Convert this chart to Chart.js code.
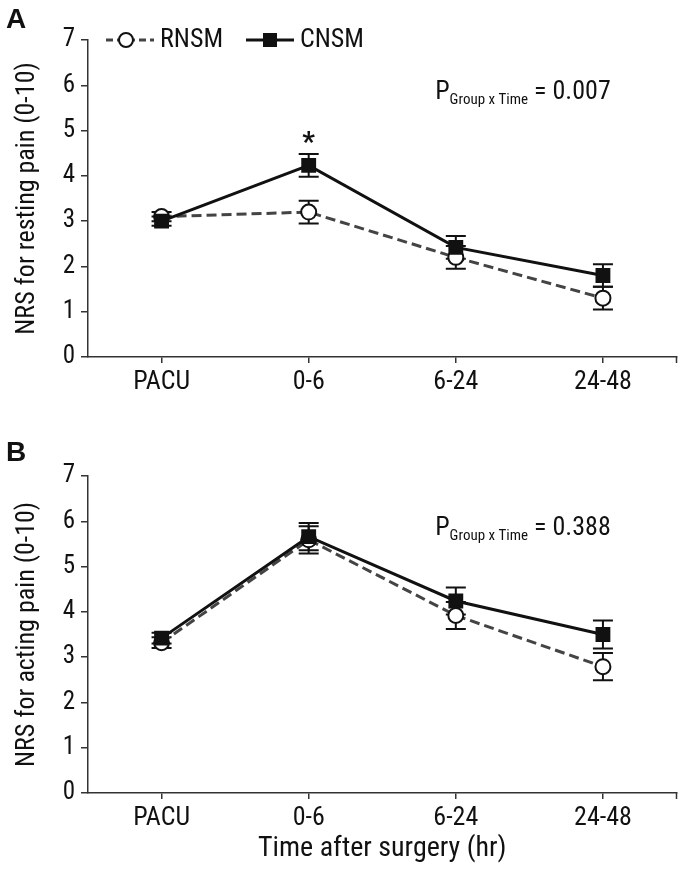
<!DOCTYPE html>
<html>
<head>
<meta charset="utf-8">
<script src="https://cdn.jsdelivr.net/npm/chart.js@4.4.0/dist/chart.umd.min.js"></script>
<style>
  body { margin: 0; background: #fff; }
  .panel { position: absolute; left: 0; width: 687px; }
  .letter { position: absolute; left: 6px; font: bold 28px 'Liberation Sans', Arial, sans-serif; color: #111; line-height: 32px; }
</style>
</head>
<body>
<div class="panel" style="top:0;height:430px"><canvas id="chartA"></canvas></div>
<div class="panel" style="top:430px;height:444px"><canvas id="chartB"></canvas></div>
<div class="letter" style="top:3px">A</div>
<div class="letter" style="top:436px">B</div>
<script>
const FONT = "'Roboto Condensed', 'Liberation Sans Narrow', 'DejaVu Sans Condensed', sans-serif"

const categories = ['PACU', '0-6', '6-24', '24-48']
const yTicks = [0, 1, 2, 3, 4, 5, 6, 7]

// panel A, resting pain
const rnsmRest = [3.1, 3.2, 2.2, 1.3]
const rnsmRestErr = [0.1, 0.25, 0.25, 0.25]
const cnsmRest = [3.0, 4.23, 2.42, 1.8]
const cnsmRestErr = [0.1, 0.25, 0.25, 0.25]

// panel B, acting pain
const rnsmAct = [3.32, 5.59, 3.92, 2.79]
const rnsmActErr = [0.12, 0.3, 0.3, 0.3]
const cnsmAct = [3.42, 5.66, 4.24, 3.5]
const cnsmActErr = [0.12, 0.3, 0.3, 0.31]

const INK = '#111'
const AXIS = '#333'

const extras = {
  id: 'extras',
  beforeDatasetsDraw(chart, args, opts) {
    const { ctx, scales: { x, y } } = chart
    ctx.save()
    ctx.strokeStyle = INK
    ctx.lineWidth = 2
    opts.errors.forEach((e) => {
      e.values.forEach((v, i) => {
        const px = x.getPixelForValue(i)
        const top = y.getPixelForValue(v + e.err[i])
        const bot = y.getPixelForValue(v - e.err[i])
        ctx.beginPath()
        ctx.moveTo(px, top); ctx.lineTo(px, bot)
        ctx.moveTo(px - 10, top); ctx.lineTo(px + 10, top)
        ctx.moveTo(px - 10, bot); ctx.lineTo(px + 10, bot)
        ctx.stroke()
      })
    })
    ctx.restore()
  },
  afterDraw(chart, args, opts) {
    const { ctx, chartArea, scales: { x, y } } = chart
    ctx.save()
    // closing tick at the right end of the x axis
    ctx.strokeStyle = AXIS
    ctx.lineWidth = 1.5
    ctx.beginPath()
    ctx.moveTo(chartArea.right, chartArea.bottom)
    ctx.lineTo(chartArea.right, chartArea.bottom + 6)
    ctx.stroke()

    ctx.fillStyle = INK
    ctx.textBaseline = 'middle'
    // P group x time
    let px = x.getPixelForValue(opts.pAt[0])
    const py = y.getPixelForValue(opts.pAt[1])
    ctx.font = '26px ' + FONT
    ctx.fillText('P', px, py)
    px += ctx.measureText('P').width
    ctx.font = '15px ' + FONT
    ctx.fillText('Group x Time', px, py + 8)
    px += ctx.measureText('Group x Time').width
    ctx.font = '26px ' + FONT
    ctx.fillText(' = ' + opts.pValue, px, py)

    if (opts.star) {
      ctx.font = 'bold 28px ' + FONT
      ctx.textAlign = 'center'
      ctx.fillText('*', x.getPixelForValue(opts.star[0]), y.getPixelForValue(opts.star[1]) + 6)
      ctx.textAlign = 'left'
    }

    if (opts.legend) {
      const ly = chartArea.top
      const lx = chartArea.left + 18
      ctx.lineWidth = 3
      // RNSM sample
      ctx.strokeStyle = '#444'
      ctx.setLineDash([7, 4])
      ctx.beginPath(); ctx.moveTo(lx, ly); ctx.lineTo(lx + 48, ly); ctx.stroke()
      ctx.setLineDash([])
      ctx.beginPath(); ctx.arc(lx + 20, ly, 7, 0, Math.PI * 2)
      ctx.fillStyle = '#fff'; ctx.fill()
      ctx.strokeStyle = INK; ctx.lineWidth = 2; ctx.stroke()
      ctx.fillStyle = INK
      ctx.font = '26px ' + FONT
      ctx.fillText('RNSM', lx + 54, ly)
      // CNSM sample
      const cx = lx + 140
      ctx.lineWidth = 3
      ctx.beginPath(); ctx.moveTo(cx, ly); ctx.lineTo(cx + 48, ly); ctx.stroke()
      ctx.fillRect(cx + 17, ly - 7, 14, 14)
      ctx.fillText('CNSM', cx + 54, ly)
    }
    ctx.restore()
  },
}

function buildChart(id, rnsm, cnsm, yTitle, xTitle, padTop, xHeight, extraOpts) {
  const ctx = document.getElementById(id).getContext('2d')
  return new Chart(ctx, {
    type: 'line',
    data: {
      labels: categories,
      datasets: [
        {
          label: 'CNSM',
          data: cnsm,
          borderColor: INK,
          borderWidth: 3,
          pointStyle: 'rect',
          pointRadius: 10.5,
          pointBackgroundColor: INK,
          pointBorderColor: INK,
          pointBorderWidth: 0,
          tension: 0,
        },
        {
          label: 'RNSM',
          data: rnsm,
          borderColor: '#444',
          borderWidth: 3,
          borderDash: [10, 5],
          pointStyle: 'circle',
          pointRadius: 7.5,
          pointBackgroundColor: '#fff',
          pointBorderColor: INK,
          pointBorderWidth: 2,
          tension: 0,
        },
      ],
    },
    options: {
      responsive: true,
      maintainAspectRatio: false,
      animation: false,
      layout: { padding: { top: padTop, left: 12, right: 6, bottom: 0 } },
      scales: {
        x: {
          type: 'category',
          offset: true,
          grid: { drawOnChartArea: false, tickLength: 6, color: AXIS, lineWidth: 1.5 },
          border: { color: AXIS, width: 1.5 },
          ticks: { color: INK, font: { family: FONT, size: 26 }, padding: 4 },
          title: {
            display: !!xTitle,
            text: xTitle,
            color: INK,
            font: { family: FONT, size: 28 },
            padding: { top: 0, bottom: 8 },
          },
          afterFit: (scale) => { scale.height = xHeight },
        },
        y: {
          min: 0,
          max: 7,
          afterBuildTicks: (scale) => { scale.ticks = yTicks.map((v) => ({ value: v })) },
          grid: { drawOnChartArea: false, tickLength: 7, color: AXIS, lineWidth: 1.5 },
          border: { color: AXIS, width: 1.5 },
          ticks: { color: INK, font: { family: FONT, size: 25 }, padding: 6 },
          title: {
            display: true,
            text: yTitle,
            color: INK,
            font: { family: FONT, size: 26 },
            padding: 0,
          },
          afterFit: (scale) => { scale.width = 76 },
        },
      },
      plugins: {
        legend: { display: false },
        tooltip: { enabled: false },
        extras: extraOpts,
      },
    },
    plugins: [extras],
  })
}

buildChart('chartA', rnsmRest, cnsmRest, 'NRS for resting pain (0-10)', '', 40, 73, {
  errors: [
    { values: rnsmRest, err: rnsmRestErr },
    { values: cnsmRest, err: cnsmRestErr },
  ],
  pAt: [1.86, 5.85],
  pValue: '0.007',
  star: [1, 4.83],
  legend: true,
})

buildChart('chartB', rnsmAct, cnsmAct, 'NRS for acting pain (0-10)', 'Time after surgery (hr)', 46, 81, {
  errors: [
    { values: rnsmAct, err: rnsmActErr },
    { values: cnsmAct, err: cnsmActErr },
  ],
  pAt: [1.86, 5.85],
  pValue: '0.388',
})
</script>
</body>
</html>
